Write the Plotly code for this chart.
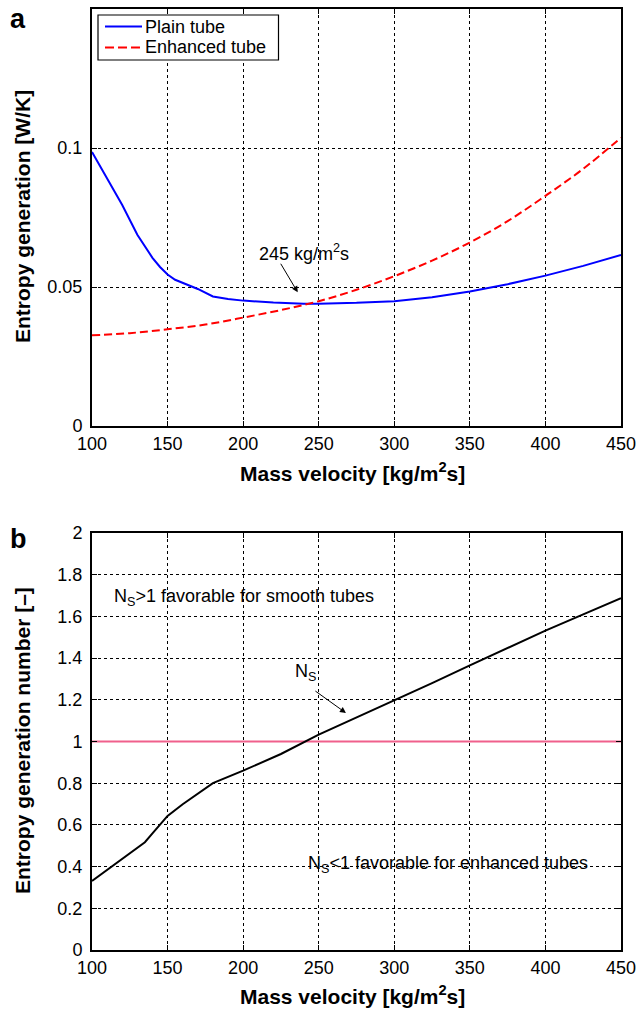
import plotly.graph_objects as go

# ---------------- data ----------------
# Panel a: entropy generation [W/K]
plain_x = [100, 110, 120, 130, 135, 140, 145, 150, 155, 160, 170, 180, 190, 200, 220, 240, 250,
           275, 300, 325, 350, 375, 400, 425, 450]
plain_y = [0.0986, 0.089, 0.0795, 0.0688, 0.0648, 0.0605, 0.0572, 0.0545, 0.0526, 0.0515, 0.0493,
           0.0466, 0.0457, 0.0451, 0.0444, 0.0440, 0.0440, 0.0443, 0.0449, 0.0463, 0.0484, 0.0510,
           0.0541, 0.0576, 0.0615]

enh_x = [100, 125, 150, 175, 200, 225, 250, 275, 300, 325, 350, 375, 400, 425, 450]
enh_y = [0.0326, 0.0334, 0.0348, 0.0365, 0.0390, 0.0417, 0.0449, 0.0490, 0.0539, 0.0595,
         0.0660, 0.0737, 0.0828, 0.0925, 0.1037]

# Panel b: entropy generation number
ns_x = [100, 110, 120, 130, 135, 140, 145, 150, 160, 170, 180, 200, 225, 250, 275, 300, 325,
        350, 375, 400, 425, 450]
ns_y = [0.331, 0.383, 0.435, 0.488, 0.517, 0.559, 0.602, 0.643, 0.699, 0.749, 0.80, 0.86, 0.94,
        1.033, 1.115, 1.196, 1.28, 1.365, 1.45, 1.532, 1.61, 1.687]

unity_x = [100, 450]
unity_y = [1, 1]

x_ticks = [100, 150, 200, 250, 300, 350, 400, 450]
ya_ticks = [0, 0.05, 0.1]
ya_labels = ["0", "0.05", "0.1"]
yb_ticks = [0, 0.2, 0.4, 0.6, 0.8, 1.0, 1.2, 1.4, 1.6, 1.8, 2.0]
yb_labels = ["0", "0.2", "0.4", "0.6", "0.8", "1", "1.2", "1.4", "1.6", "1.8", "2"]

series_names = ["Plain tube", "Enhanced tube"]

# ---------------- figure ----------------
FONT = "Arial, Liberation Sans, sans-serif"
W, H = 638, 1011
BLUE, RED, PINK = "#0000FF", "#FF0000", "#F0608C"
RED_DASH = "8px,4px"

fig = go.Figure()
fig.add_trace(go.Scatter(x=plain_x, y=plain_y, mode="lines", name=series_names[0],
                         line=dict(color=BLUE, width=2), xaxis="x", yaxis="y"))
fig.add_trace(go.Scatter(x=enh_x, y=enh_y, mode="lines", name=series_names[1],
                         line=dict(color=RED, width=2, dash=RED_DASH), xaxis="x", yaxis="y",
                         line_shape="spline"))
fig.add_trace(go.Scatter(x=unity_x, y=unity_y, mode="lines",
                         line=dict(color=PINK, width=2), xaxis="x2", yaxis="y2"))
fig.add_trace(go.Scatter(x=ns_x, y=ns_y, mode="lines",
                         line=dict(color="black", width=2), xaxis="x2", yaxis="y2"))

def px_x(p):
    return p / W

def px_y(p):
    return 1 - p / H

axis_common = dict(
    showline=True, linecolor="black", linewidth=2, mirror="allticks",
    ticks="inside", ticklen=5, tickwidth=1, tickcolor="black",
    showgrid=True, gridcolor="black", gridwidth=1, griddash="dot",
    zeroline=False, automargin=False,
    tickfont=dict(family=FONT, size=18, color="black"),
)

fig.update_layout(
    template="none",
    width=W, height=H,
    margin=dict(l=0, r=0, t=0, b=0, pad=0, autoexpand=False),
    paper_bgcolor="white", plot_bgcolor="white",
    font=dict(family=FONT, size=18, color="black"),
    xaxis=dict(domain=[px_x(92), px_x(621)], range=[100, 450], tickvals=x_ticks,
               anchor="y", **axis_common),
    yaxis=dict(domain=[px_y(426), px_y(9)], range=[0, 0.15], tickvals=ya_ticks,
               ticktext=ya_labels, anchor="x", ticklabelstandoff=4, **axis_common),
    xaxis2=dict(domain=[px_x(92), px_x(621)], range=[100, 450], tickvals=x_ticks,
                anchor="y2", **axis_common),
    yaxis2=dict(domain=[px_y(950), px_y(533)], range=[0, 2], tickvals=yb_ticks,
                ticktext=yb_labels, anchor="x2", ticklabelstandoff=4, **axis_common),
    showlegend=False,
)

# legend box (drawn in paper space to match the compact MATLAB legend)
shapes = [
    dict(type="rect", xref="paper", yref="paper", x0=px_x(98), x1=px_x(278.5),
         y0=px_y(60), y1=px_y(15), line=dict(color="black", width=1.2), fillcolor="white",
         layer="above"),
    dict(type="line", xref="paper", yref="paper", x0=px_x(105), x1=px_x(142),
         y0=px_y(26.5), y1=px_y(26.5), line=dict(color=BLUE, width=2), layer="above"),
    dict(type="line", xref="paper", yref="paper", x0=px_x(105), x1=px_x(142),
         y0=px_y(47.5), y1=px_y(47.5), line=dict(color=RED, width=2, dash="9px,4px"),
         layer="above"),
]
fig.update_layout(shapes=shapes)

def txt(text, x, y, size=18, xref="paper", yref="paper", xanchor="center",
        yanchor="middle", angle=0):
    return dict(text=text, x=x, y=y, xref=xref, yref=yref, xanchor=xanchor,
                yanchor=yanchor, textangle=angle, showarrow=False,
                font=dict(family=FONT, size=size, color="black"))

annotations = [
    # legend text
    txt(series_names[0], px_x(143), px_y(26.5), xanchor="left"),
    txt(series_names[1], px_x(143), px_y(47.5), xanchor="left"),
    # panel labels
    txt("<b>a</b>", px_x(8), px_y(2), size=27, xanchor="left", yanchor="top"),
    txt("<b>b</b>", px_x(8), px_y(522), size=27, xanchor="left", yanchor="top"),
    # axis titles
    txt("<b>Entropy generation [W/K]</b>", px_x(22), px_y(217), size=21, angle=-90),
    txt("<b>Mass velocity [kg/m<sup>2</sup>s]</b>", px_x(352), px_y(472), size=21),
    txt("<b>Entropy generation number [\u2013]</b>", px_x(22), px_y(741), size=21, angle=-90),
    txt("<b>Mass velocity [kg/m<sup>2</sup>s]</b>", px_x(352), px_y(995), size=21),
    # panel a annotation
    txt("245 kg/m<sup>2</sup>s", 240, 0.0625, xref="x", yref="y"),
    dict(text="", x=236.1, y=0.0481, ax=224.3, ay=0.0589, xref="x", yref="y",
         axref="x", ayref="y", showarrow=True, arrowhead=2, arrowsize=1.2,
         arrowwidth=1, arrowcolor="black"),
    # panel b annotations
    txt("N<sub>S</sub>&gt;1 favorable for smooth tubes", 113, 1.693, xref="x2", yref="y2",
        xanchor="left"),
    txt("N<sub>S</sub>", 241, 1.33, xref="x2", yref="y2"),
    dict(text="", x=268, y=1.137, ax=246.8, ay=1.247, xref="x2", yref="y2",
         axref="x2", ayref="y2", showarrow=True, arrowhead=2, arrowsize=1.2,
         arrowwidth=1, arrowcolor="black"),
    txt("N<sub>S</sub>&lt;1 favorable for enhanced tubes", 241.5, 0.41, xref="x2", yref="y2",
        xanchor="left"),
]
fig.update_layout(annotations=annotations)

fig.write_html("out.html")
